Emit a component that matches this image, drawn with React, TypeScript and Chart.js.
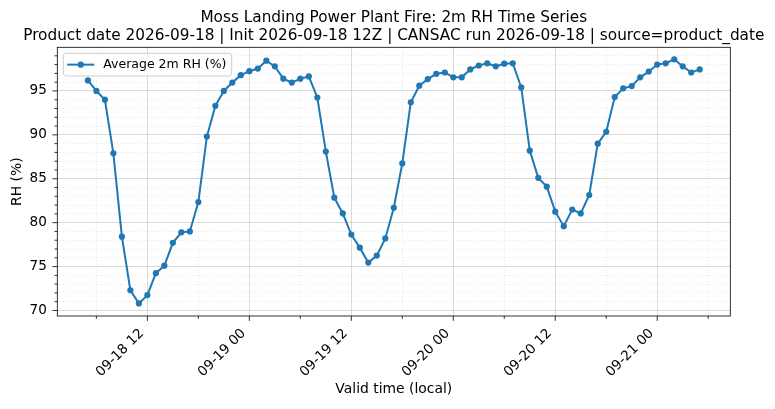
import React, { useEffect, useRef } from 'react';
import { Chart, registerables } from 'chart.js';

Chart.register(...registerables);

const FONT = "'DejaVu Sans', sans-serif";
const BLUE = '#1f77b4';

const titleLines = [
  'Moss Landing Power Plant Fire: 2m RH Time Series',
  'Product date 2026-09-18 | Init 2026-09-18 12Z | CANSAC run 2026-09-18 | source=product_date',
];
const seriesLabel = 'Average 2m RH (%)';
const xAxisTitle = 'Valid time (local)';
const yAxisTitle = 'RH (%)';

// hourly values, first one is 09-18 05 local (x = hours since 09-18 00)
const firstHour = 5;
const rhValues = [
  96.2, 95.0, 94.0, 87.9, 78.4, 72.3, 70.8, 71.75, 74.25, 75.1, 77.7, 78.9, 79.0, 82.35, 89.8, 93.3, 95.0, 95.95, 96.8,
  97.25, 97.55, 98.45, 97.8, 96.4, 95.95, 96.4, 96.65, 94.25, 88.1, 82.85, 81.05, 78.65, 77.15, 75.45, 76.25, 78.2, 81.7,
  86.75, 93.7, 95.6, 96.35, 96.95, 97.1,
  96.55, 96.55, 97.45, 97.9, 98.15, 97.8, 98.1, 98.15, 95.4, 88.2, 85.1, 84.1, 81.25, 79.6, 81.5, 81.05, 83.15, 89.0,
  90.35, 94.3, 95.3, 95.55, 96.55, 97.2,
  98.0, 98.15, 98.6, 97.8, 97.1, 97.45,
];
const validHours = rhValues.map((_, i) => firstHour + i);

const xTickHours = [12, 24, 36, 48, 60, 72];
const xTickLabels = ['09-18 12', '09-19 00', '09-19 12', '09-20 00', '09-20 12', '09-21 00'];
const xMinorHours = [6, 18, 30, 42, 54, 66, 78];
const yTicks = [70, 75, 80, 85, 90, 95];

const X_MIN = 1.4;
const X_MAX = 80.6;
const Y_MIN = 69.37;
const Y_MAX = 99.97;

const MAJOR_GRID = 'rgba(176,176,176,0.6)';
const MINOR_GRID = 'rgba(176,176,176,0.35)';

const isXMajor = (v: number) => xTickHours.includes(v);
const isYMajor = (v: number) => yTicks.includes(v);

const decorPlugin = {
  id: 'decor',
  afterDraw(chart: any) {
    const { ctx, chartArea: a, scales } = chart;
    const xs = scales.x;
    const ys = scales.y;
    ctx.save();

    // frame
    ctx.strokeStyle = '#000';
    ctx.lineWidth = 0.8;
    ctx.strokeRect(a.left, a.top, a.right - a.left, a.bottom - a.top);

    // tick marks
    ctx.beginPath();
    [...xTickHours, ...xMinorHours].forEach((v) => {
      const px = xs.getPixelForValue(v);
      const len = isXMajor(v) ? 4.9 : 2.8;
      ctx.moveTo(px, a.bottom);
      ctx.lineTo(px, a.bottom + len);
    });
    for (let v = Math.ceil(Y_MIN); v <= Math.floor(Y_MAX); v++) {
      const py = ys.getPixelForValue(v);
      const len = isYMajor(v) ? 4.9 : 2.8;
      ctx.moveTo(a.left, py);
      ctx.lineTo(a.left - len, py);
    }
    ctx.stroke();

    // titles
    ctx.fillStyle = '#000';
    ctx.textAlign = 'center';
    ctx.textBaseline = 'alphabetic';
    const cx = (a.left + a.right) / 2;
    ctx.font = `15.3px ${FONT}`;
    ctx.fillText(titleLines[0], cx, 22);
    ctx.fillText(titleLines[1], cx, 39.5);

    ctx.font = `13.9px ${FONT}`;
    ctx.fillText(xAxisTitle, cx, 392.5);
    ctx.save();
    ctx.translate(21, (a.top + a.bottom) / 2);
    ctx.rotate(-Math.PI / 2);
    ctx.fillText(yAxisTitle, 0, 0);
    ctx.restore();

    // legend
    const lx = a.left + 6;
    const ly = a.top + 6;
    const lw = 168.4;
    const lh = 22.7;
    ctx.beginPath();
    ctx.roundRect(lx, ly, lw, lh, 3);
    ctx.fillStyle = 'rgba(255,255,255,0.8)';
    ctx.fill();
    ctx.strokeStyle = '#cccccc';
    ctx.lineWidth = 1;
    ctx.stroke();
    const my = ly + lh / 2;
    ctx.strokeStyle = BLUE;
    ctx.lineWidth = 2;
    ctx.beginPath();
    ctx.moveTo(lx + 4, my);
    ctx.lineTo(lx + 31, my);
    ctx.stroke();
    ctx.fillStyle = BLUE;
    ctx.beginPath();
    ctx.arc(lx + 17.5, my, 3.1, 0, Math.PI * 2);
    ctx.fill();
    ctx.fillStyle = '#000';
    ctx.font = `12.5px ${FONT}`;
    ctx.textAlign = 'left';
    ctx.textBaseline = 'middle';
    ctx.fillText(seriesLabel, lx + 40, my + 0.5);

    ctx.restore();
  },
};

export default function App() {
  const canvas = useRef<HTMLCanvasElement>(null!);

  useEffect(() => {
    const chart = new Chart(canvas.current, {
      type: 'line',
      data: {
        datasets: [
          {
            label: seriesLabel,
            data: validHours.map((h, i) => ({ x: h, y: rhValues[i] })),
            borderColor: BLUE,
            backgroundColor: BLUE,
            borderWidth: 2,
            pointRadius: 3.1,
            pointBorderWidth: 0,
            pointBackgroundColor: BLUE,
            tension: 0,
          },
        ],
      },
      options: {
        animation: false,
        responsive: true,
        maintainAspectRatio: false,
        devicePixelRatio: 1,
        layout: { padding: { left: 0, right: 44.7, top: 47.3, bottom: 0 } },
        plugins: {
          legend: { display: false },
          tooltip: { enabled: false },
          title: { display: false },
        },
        scales: {
          x: {
            type: 'linear',
            min: X_MIN,
            max: X_MAX,
            afterBuildTicks: (s: any) => {
              s.ticks = [...xMinorHours, ...xTickHours].sort((p, q) => p - q).map((value) => ({ value }));
            },
            afterFit: (s: any) => {
              s.height = 93;
            },
            grid: {
              drawTicks: false,
              lineWidth: 0.8,
              color: (c: any) => (c.tick && isXMajor(c.tick.value) ? MAJOR_GRID : MINOR_GRID),
            },
            border: {
              display: false,
              dash: (c: any) => (c.tick && !isXMajor(c.tick.value) ? [1, 2] : []),
            },
            ticks: {
              autoSkip: false,
              maxRotation: 45,
              minRotation: 45,
              padding: 9.6,
              labelOffset: -5.6,
              color: '#000',
              font: { family: FONT, size: 13.6 },
              callback: (v: any) => {
                const k = xTickHours.indexOf(Number(v));
                return k >= 0 ? xTickLabels[k] : '';
              },
            },
          },
          y: {
            type: 'linear',
            min: Y_MIN,
            max: Y_MAX,
            afterBuildTicks: (s: any) => {
              const t = [];
              for (let v = Math.ceil(Y_MIN); v <= Math.floor(Y_MAX); v++) t.push({ value: v });
              s.ticks = t;
            },
            afterFit: (s: any) => {
              s.width = 57.3;
            },
            grid: {
              drawTicks: false,
              lineWidth: 0.8,
              color: (c: any) => (c.tick && isYMajor(c.tick.value) ? MAJOR_GRID : MINOR_GRID),
            },
            border: {
              display: false,
              dash: (c: any) => (c.tick && !isYMajor(c.tick.value) ? [1, 2] : []),
            },
            ticks: {
              autoSkip: false,
              padding: 10.5,
              color: '#000',
              font: { family: FONT, size: 13.6 },
              callback: (v: any) => (isYMajor(Number(v)) ? String(v) : ''),
            },
          },
        },
      },
      plugins: [decorPlugin],
    });

    return () => {
      chart.destroy();
    };
  }, []);

  return (
    <div style={{ position: 'absolute', left: 0, top: 0, width: 775, height: 409, background: '#fff' }}>
      <canvas ref={canvas}></canvas>
    </div>
  );
}
